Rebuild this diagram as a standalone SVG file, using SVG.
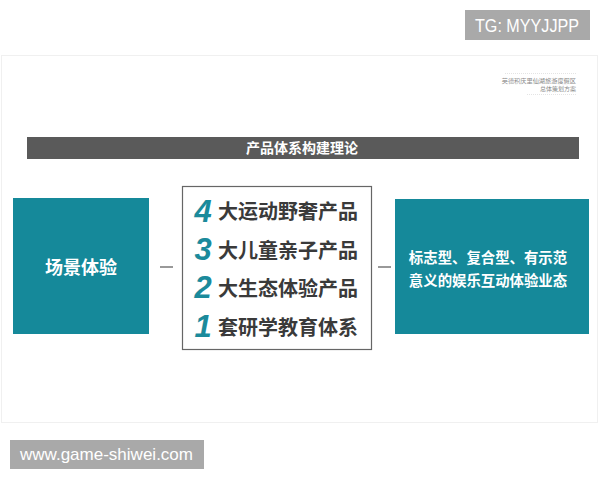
<svg xmlns="http://www.w3.org/2000/svg" width="600" height="480" viewBox="0 0 600 480">
<style>
.teal{fill:#15899a}
.wt{fill:#fff;font-family:"Noto Sans CJK SC","Noto Sans",sans-serif;font-weight:bold;text-anchor:middle}
.num{fill:#1b8a9b;font-family:"Liberation Sans",Arial,sans-serif;font-weight:bold;font-style:italic;font-size:31px;text-anchor:middle}
.item{fill:#3a3a3a;font-family:"Noto Sans CJK SC",sans-serif;font-weight:bold;font-size:20px}
.badge{fill:#a9a9a9}
.bt{fill:#fff;font-family:"Liberation Sans",Arial,sans-serif}
.dash{stroke:#555;stroke-width:1.2}
.hd{font-family:"Noto Sans CJK SC",sans-serif;fill:#8a8a8a;text-anchor:end}
</style>
<rect width="600" height="480" fill="#fff"/>
<rect x="1.5" y="55.5" width="596" height="367" fill="#fff" stroke="#f0f0f0"/>
<g id="header">
<line x1="505" y1="73.5" x2="576" y2="73.5" stroke="#e4e4e4" stroke-width="1" stroke-dasharray="1,1"/>
<text class="hd" x="576" y="83" font-size="6.2">英德积庆里仙湖旅游度假区</text>
<text class="hd" x="576" y="91" font-size="6">总体策划方案</text>
<line x1="527" y1="94.5" x2="576" y2="94.5" stroke="#e4e4e4" stroke-width="1" stroke-dasharray="1,1"/>
</g>
<g id="tg">
<rect class="badge" x="465" y="10" width="125" height="30"/>
<text class="bt" x="475" y="32" font-size="18" textLength="104" lengthAdjust="spacingAndGlyphs">TG: MYYJJPP</text>
</g>
<g id="title">
<rect x="27" y="137" width="552" height="22" fill="#5a5a5a"/>
<text class="wt" x="302" y="153" font-size="14">产品体系构建理论</text>
</g>
<g id="scene">
<rect class="teal" x="13" y="198" width="136" height="136"/>
<text class="wt" x="81" y="274" font-size="18">场景体验</text>
</g>
<g id="products">
<rect x="182.5" y="186.5" width="189" height="163" fill="#fff" stroke="#666" stroke-width="1.2"/>
<text class="num" x="203" y="222">4</text>
<text class="item" x="218" y="219">大运动野奢产品</text>
<text class="num" x="203" y="260">3</text>
<text class="item" x="218" y="258">大儿童亲子产品</text>
<text class="num" x="203" y="298">2</text>
<text class="item" x="218" y="296">大生态体验产品</text>
<text class="num" x="203" y="337">1</text>
<text class="item" x="218" y="335">套研学教育体系</text>
</g>
<g id="business">
<rect class="teal" x="395" y="199" width="194" height="135"/>
<text class="wt" x="488" y="263" font-size="14.4">标志型、复合型、有示范</text>
<text class="wt" x="488" y="286" font-size="14.4">意义的娱乐互动体验业态</text>
</g>
<g id="connectors">
<line class="dash" x1="160" y1="267" x2="173" y2="267"/>
<line class="dash" x1="378" y1="267" x2="391" y2="267"/>
</g>
<g id="site">
<rect class="badge" x="10" y="440" width="194" height="29"/>
<text class="bt" x="20" y="460" font-size="17" textLength="173" lengthAdjust="spacingAndGlyphs">www.game-shiwei.com</text>
</g>
</svg>
